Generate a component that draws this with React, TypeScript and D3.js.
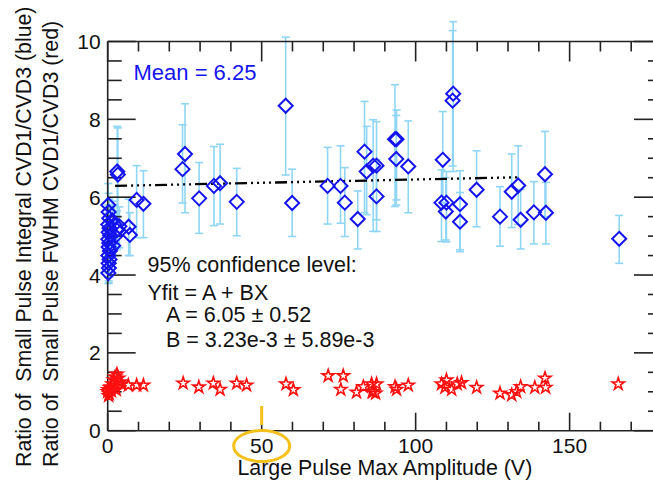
import React from "react";
import * as d3 from "d3";

// Blue: Small Pulse Integral ratio (x, y, error low, error high)
const blueX = [0.2, 0.3, 0.5, 0.2, 0.6, 0.3, 0.8, 0.2, 0.5, 0.3, 0.7, 0.2, 0.6, 0.3, 0.4, 0.2, 1.5, 2.2, 3.0, 3.8, 1.8, 2.5,
  3.1, 3.3, 6.8, 7.2, 9.4, 11.6, 24.3, 25.1, 29.7, 34.5, 36.5, 41.9, 57.8, 59.9, 71.4, 75.6, 77.0, 81.2, 83.4, 84.1, 86.2, 87.3, 87.3,
  93.3, 93.8, 93.7, 97.6, 108.8, 108.4, 110.0, 109.8, 112.2, 112.0, 114.4, 114.4, 119.8, 127.4, 131.2, 133.3, 134.1, 138.4, 142.3, 142.0, 166.1];
const blueY = [5.80, 5.62, 5.46, 5.30, 5.20, 5.10, 5.02, 4.92, 4.82, 4.72, 4.62, 4.50, 4.40, 4.30, 4.18, 4.05, 5.40, 5.30, 5.15, 5.25, 4.75, 5.00,
  6.66, 6.58, 5.24, 5.03, 5.93, 5.83, 6.72, 7.11, 5.97, 6.29, 6.36, 5.88, 8.35, 5.85, 6.29, 6.29, 5.86, 5.44, 7.17, 6.66, 6.81, 6.81, 6.02,
  7.49, 7.49, 6.98, 6.79, 6.96, 5.86, 5.86, 5.63, 8.66, 8.48, 5.82, 5.37, 6.19, 5.50, 6.14, 6.30, 5.42, 5.61, 5.60, 6.59, 4.93];
const blueLo = [5.30, 5.15, 5.00, 4.85, 4.75, 4.65, 4.55, 4.45, 4.35, 4.25, 4.15, 4.05, 3.95, 3.85, 3.80, 3.78, 4.90, 4.80, 4.65, 4.70, 4.30, 4.50,
  5.50, 5.40, 4.50, 4.50, 4.96, 4.96, 5.85, 5.60, 5.07, 5.27, 5.31, 5.01, 6.57, 4.99, 5.31, 5.33, 4.99, 4.67, 5.60, 5.55, 5.12, 5.42, 5.12,
  5.76, 5.93, 5.80, 5.60, 5.85, 4.86, 4.85, 4.90, 6.66, 6.80, 4.65, 4.60, 5.24, 4.74, 5.22, 5.30, 4.67, 4.80, 4.80, 5.50, 4.30];
const blueHi = [6.35, 6.10, 5.95, 5.80, 5.70, 5.60, 5.50, 5.40, 5.30, 5.20, 5.10, 5.00, 4.85, 4.75, 4.60, 4.50, 5.90, 5.80, 5.65, 5.75, 5.20, 5.50,
  7.82, 7.78, 5.95, 5.60, 6.81, 6.68, 7.86, 8.40, 6.89, 7.30, 7.36, 6.74, 10.11, 6.72, 7.28, 7.32, 6.76, 6.16, 8.46, 7.82, 7.99, 7.94, 6.96,
  8.89, 8.24, 8.10, 7.96, 8.20, 6.70, 6.66, 6.50, 10.51, 10.28, 6.68, 6.12, 7.19, 6.27, 7.11, 7.32, 6.20, 6.40, 6.38, 7.69, 5.53];

// Red: Small Pulse FWHM ratio
const redX = [0, 0.2, 0.5, 0.8, 1.2, 1.5, 2.0, 2.5, 3.0, 3.5, 4.0, 1.0, 0.3, 2.8, 4.5, 2.4,
  6.7, 9.4, 11.6, 24.5, 29.6, 34.3, 36.5, 41.9, 45.1, 57.9, 60.3, 71.6, 76.5, 75.7, 80.8, 83.0, 85.7, 85.9, 87.3, 86.2, 87.0,
  93.3, 93.8, 97.6, 108.4, 110.0, 109.5, 111.7, 113.5, 114.9, 119.8, 127.4, 131.2, 132.8, 134.1, 138.7, 142.0, 142.2, 165.8];
const redY = [1.00, 1.05, 0.95, 1.10, 1.02, 1.20, 1.30, 1.15, 1.45, 1.35, 1.25, 1.12, 0.90, 1.05, 1.20, 1.38,
  1.17, 1.17, 1.17, 1.22, 1.12, 1.22, 1.06, 1.22, 1.17, 1.20, 1.05, 1.41, 1.41, 1.06, 0.99, 1.13, 1.20, 1.00, 1.20, 1.00, 0.96,
  1.13, 1.06, 1.17, 1.20, 1.30, 1.11, 1.06, 1.20, 1.23, 1.11, 0.96, 0.92, 1.00, 1.13, 1.11, 1.35, 1.11, 1.20];

// Fit line (endpoints as drawn)
const fitX = [2.4, 133];
const fitY = [6.29, 6.51];

const xMajor = [0, 50, 100, 150];
const yMajor = [0, 2, 4, 6, 8, 10];

const meanLabel = "Mean = 6.25";
const fitLines = ["95% confidence level:", "Yfit = A + BX", "A = 6.05 \u00b1 0.52", "B = 3.23e-3 \u00b1 5.89e-3"];
const xTitle = "Large Pulse Max Amplitude (V)";
const yTitle1 = "Ratio of  Small Pulse Integral CVD1/CVD3 (blue)";
const yTitle2 = "Ratio of  Small Pulse FWHM CVD1/CVD3 (red)";

const W = 653, H = 487;
const L = 107.7, R = 662, T = 41.5, B = 430.7;
const FONT = "'Liberation Sans', Arial, Helvetica, sans-serif";

export default function App() {
  const x = d3.scaleLinear().domain([0, 180]).range([L, R]);
  const y = d3.scaleLinear().domain([0, 10]).range([B, T]);
  const xMinor = d3.range(0, 181, 10).filter((v) => !xMajor.includes(v));
  const yMinor = d3.range(0, 10.01, 0.5).filter((v) => !yMajor.includes(v));
  const axisColor = "#222";
  const ebColor = "#8fd6f4";
  const blue = "#1414f0";
  const diamondHalf = 7;
  const star = d3.symbol().type(d3.symbolStar).size(46)() as string;
  const fitPath = d3.line<number>().x((_, i) => x(fitX[i])).y((d) => y(d))(fitY) as string;

  return (
    <svg width={W} height={H} style={{ position: "absolute", left: 0, top: 0, background: "#fff" }} fontFamily={FONT}>
      <rect x={0} y={0} width={W} height={H} fill="#fff" />
      {/* error bars */}
      <g stroke={ebColor} strokeWidth={1.6}>
        {blueX.map((bx, i) => {
          const px = x(bx);
          const py = y(blueY[i]);
          const top = y(blueHi[i]);
          const bot = y(blueLo[i]);
          return (
            <g key={i}>
              {top < py - diamondHalf && <line x1={px} x2={px} y1={top} y2={py - diamondHalf} />}
              {bot > py + diamondHalf && <line x1={px} x2={px} y1={py + diamondHalf} y2={bot} />}
              <line x1={px - 4} x2={px + 4} y1={top} y2={top} />
              <line x1={px - 4} x2={px + 4} y1={bot} y2={bot} />
            </g>
          );
        })}
      </g>
      {/* axes frame */}
      <g stroke={axisColor} strokeWidth={1.6} fill="none">
        <line x1={L} x2={L} y1={T} y2={B} />
        <line x1={L} x2={R} y1={B} y2={B} />
        <line x1={L} x2={R} y1={T} y2={T} />
        <line x1={R} x2={R} y1={T} y2={B} />
        {xMajor.map((v) => (
          <g key={"xm" + v}>
            <line x1={x(v)} x2={x(v)} y1={B} y2={B - 18} />
            <line x1={x(v)} x2={x(v)} y1={T} y2={T + 20} />
          </g>
        ))}
        {xMinor.map((v) => (
          <g key={"xn" + v}>
            <line x1={x(v)} x2={x(v)} y1={B} y2={B - 9} />
            <line x1={x(v)} x2={x(v)} y1={T} y2={T + 10} />
          </g>
        ))}
        {yMajor.map((v) => (
          <g key={"ym" + v}>
            <line x1={L} x2={L + 28} y1={y(v)} y2={y(v)} />
            <line x1={R} x2={R - 28} y1={y(v)} y2={y(v)} />
          </g>
        ))}
        {yMinor.map((v) => (
          <g key={"yn" + v}>
            <line x1={L} x2={L + 14} y1={y(v)} y2={y(v)} />
            <line x1={R} x2={R - 14} y1={y(v)} y2={y(v)} />
          </g>
        ))}
      </g>
      {/* fit line */}
      <path d={fitPath} stroke="#000" strokeWidth={2.3} fill="none" strokeDasharray="12 4 2 4 2 4 2 4 2 4" />
      {/* diamonds */}
      <g stroke={blue} strokeWidth={2} fill="none">
        {blueX.map((bx, i) => {
          const px = x(bx);
          const py = y(blueY[i]);
          return (
            <path key={i} d={`M${px},${py - diamondHalf}L${px + diamondHalf},${py}L${px},${py + diamondHalf}L${px - diamondHalf},${py}Z`} />
          );
        })}
      </g>
      {/* stars */}
      <g stroke="#ff1010" strokeWidth={1.6} fill="none">
        {redX.map((rx, i) => (
          <path key={i} d={star} transform={`translate(${x(rx)},${y(redY[i])})`} />
        ))}
      </g>
      {/* tick labels */}
      <g fontSize={21} fill="#111">
        {yMajor.map((v) => (
          <text key={"yl" + v} x={L - 7} y={y(v) + 7.5} textAnchor="end">{v}</text>
        ))}
        {xMajor.map((v) => (
          <text key={"xl" + v} x={x(v)} y={453} textAnchor="middle">{v}</text>
        ))}
      </g>
      <text x={(L + R) / 2} y={475} fontSize={21.4} textAnchor="middle" fill="#111">{xTitle}</text>
      <text transform="translate(31,467) rotate(-90)" fontSize={21.3} fill="#111" style={{ whiteSpace: "pre" }}>{yTitle1}</text>
      <text transform="translate(58,467) rotate(-90)" fontSize={21.3} fill="#111" style={{ whiteSpace: "pre" }}>{yTitle2}</text>
      <text x={133.5} y={80} fontSize={22} fill={blue}>{meanLabel}</text>
      <g fontSize={21.5} fill="#111">
        <text x={147.5} y={272}>{fitLines[0]}</text>
        <text x={147.5} y={300}>{fitLines[1]}</text>
        <text x={166} y={322}>{fitLines[2]}</text>
        <text x={166} y={347}>{fitLines[3]}</text>
      </g>
      {/* yellow annotation */}
      <g stroke="#f4c01a" strokeWidth={3} fill="none">
        <line x1={x(50)} x2={x(50)} y1={406} y2={425} />
        <ellipse cx={x(50)} cy={446} rx={28} ry={15.5} />
      </g>
    </svg>
  );
}
